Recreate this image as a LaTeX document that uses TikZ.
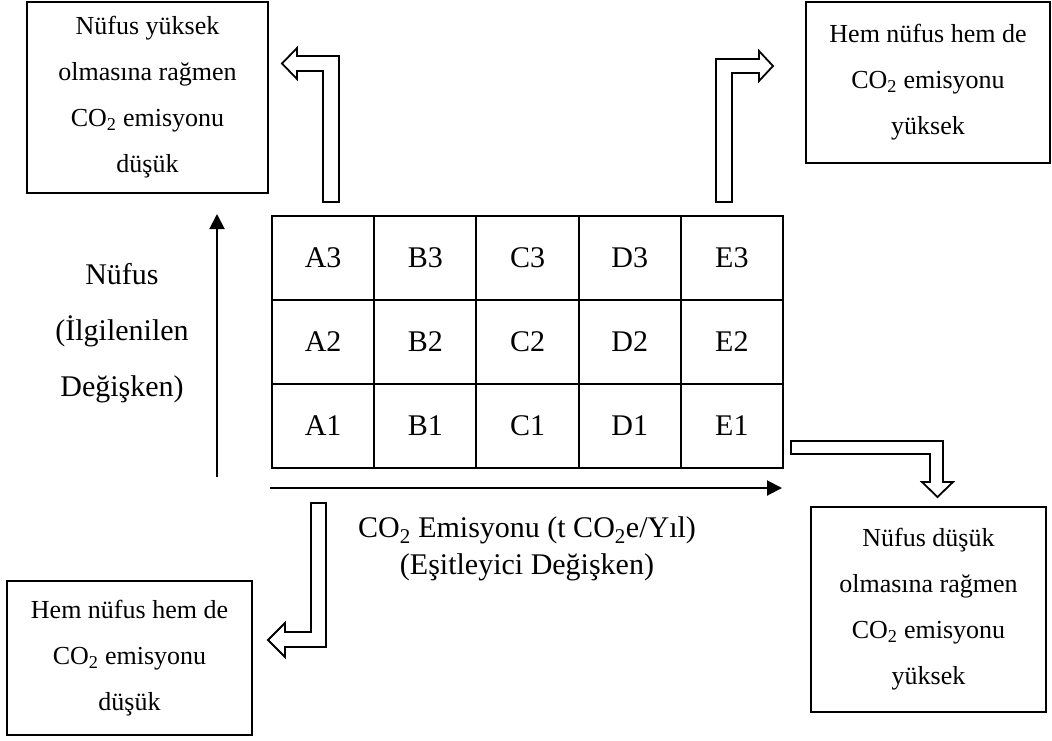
\documentclass[tikz,border=0pt]{standalone}
\usepackage{fontspec}
\setmainfont{Liberation Serif}
\usetikzlibrary{arrows.meta}
\begin{document}
\begin{tikzpicture}[x=1pt,y=-1pt,
  box/.style={draw,line width=2pt,inner sep=0pt,outer sep=0pt,align=center,
    font=\fontsize{26}{46}\selectfont},
  cell/.style={draw,line width=2pt,minimum width=102.2pt,minimum height=84pt,
    inner sep=0pt,outer sep=0pt,font=\fontsize{30}{36}\selectfont},
  hollow/.style={draw,line width=1.8pt,line join=miter,fill=white},
  axis/.style={line width=2pt,-{Triangle[length=15pt,width=15pt]}},
  lbl/.style={align=center,inner sep=0pt,font=\fontsize{30}{56}\selectfont}]
\useasboundingbox (0,0) rectangle (1052,740);

% corner boxes
\node[box,minimum width=241pt,minimum height=191pt] (hl) at (147.5,97.5)
  {Nüfus yüksek\\olmasına rağmen\\CO\textsubscript{2} emisyonu\\düşük};
\node[box,minimum width=244pt,minimum height=161pt] (hh) at (928,82.5)
  {Hem nüfus hem de\\CO\textsubscript{2} emisyonu\\yüksek};
\node[box,minimum width=245pt,minimum height=154pt] (ll) at (129.5,658)
  {Hem nüfus hem de\\CO\textsubscript{2} emisyonu\\düşük};
\node[box,minimum width=235pt,minimum height=205pt] (lh) at (928.5,609.5)
  {Nüfus düşük\\olmasına rağmen\\CO\textsubscript{2} emisyonu\\yüksek};

% 5 x 3 grid of classes
\foreach \c [count=\i from 0] in {A,B,C,D,E}{
  \foreach \r [count=\j from 0] in {3,2,1}{
    \node[cell] (\c\r) at ({272+102.2*(\i+0.5)},{216+84*(\j+0.5)}) {\c\r};
  }
}

% axes
\coordinate (ybot) at (217,477);
\coordinate (ytop) at (217,214);
\coordinate (xleft) at (270,488);
\coordinate (xright) at (782,488);
\draw[axis] (ybot) -- (ytop);
\draw[axis] (xleft) -- (xright);

% axis labels
\node[lbl] (ylab) at (122,333) {Nüfus\\(İlgilenilen\\Değişken)};
\node[lbl,font=\fontsize{30}{37}\selectfont] (xlab) at (527,549)
  {CO\textsubscript{2} Emisyonu (t CO\textsubscript{2}e/Yıl)\\(Eşitleyici Değişken)};

% hollow bent arrows towards the corner boxes
\draw[hollow] (323,202) -- (339,202) -- (339,56) -- (297,56) -- (297,48)
  -- (282,63.5) -- (297,79) -- (297,71) -- (323,71) -- cycle;
\draw[hollow] (716,202) -- (732,202) -- (732,73) -- (759,73) -- (759,81)
  -- (773,66) -- (759,51) -- (759,59) -- (716,59) -- cycle;
\draw[hollow] (791,441) -- (943,441) -- (943,482) -- (953,482)
  -- (937.5,497) -- (922,482) -- (930,482) -- (930,454) -- (791,454) -- cycle;
\draw[hollow] (311,503) -- (326,503) -- (326,647) -- (285,647) -- (285,657)
  -- (268,640) -- (285,623) -- (285,632) -- (311,632) -- cycle;
\end{tikzpicture}
\end{document}
